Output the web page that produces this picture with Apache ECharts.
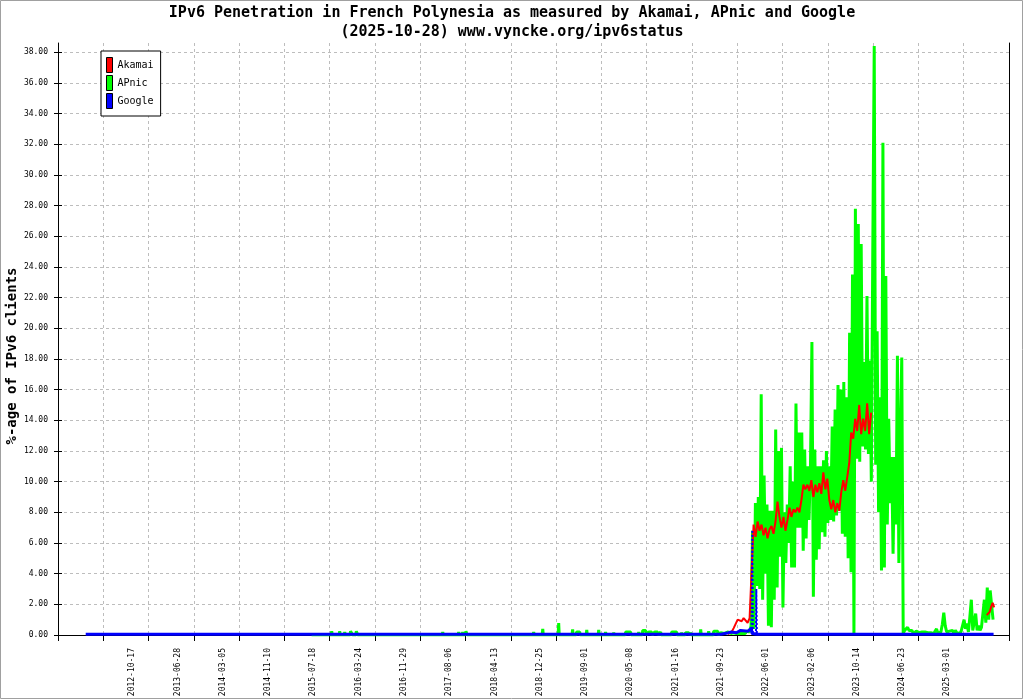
<!DOCTYPE html>
<html>
<head>
<meta charset="utf-8">
<script src="https://cdn.jsdelivr.net/npm/echarts@6/dist/echarts.min.js"></script>
<style>
html,body{margin:0;padding:0;background:#fff;}
#chart{width:1024px;height:700px;}
</style>
</head>
<body>
<div id="chart"></div>
<script>
// ---- Data (x = daily sample number, 250 samples between axis ticks) ----
const xTickLabels = ['2012-10-17','2013-06-28','2014-03-05','2014-11-10','2015-07-18','2016-03-24',
  '2016-11-29','2017-08-06','2018-04-13','2018-12-25','2019-09-01','2020-05-08','2021-01-16',
  '2021-09-23','2022-06-01','2023-02-06','2023-10-14','2024-06-23','2025-03-01'];
const firstLabelSample = 410;
const samplesPerTick = 250;
const yTickValues = [0,2,4,6,8,10,12,14,16,18,20,22,24,26,28,30,32,34,36,38];

// Akamai: evenly spaced samples from akamaiStart
const akamaiStart = 3697, akamaiStep = 11;
const akamaiValues = [
  0.05,0.1,0.2,0.45,0.5,1.0,1.1,0.9,1.1,1.0,
  0.8,1.1,1.0,7.2,6.4,7.4,6.8,7.2,6.5,7.0,
  6.3,6.9,7.1,6.6,7.4,8.7,7.7,7.0,7.7,6.8,
  7.5,8.3,7.7,8.2,8.0,8.3,8.0,8.8,9.8,9.5,
  9.8,9.4,10.1,9.0,9.8,9.3,9.9,9.2,10.6,9.5,
  10.2,8.8,8.2,8.8,8.0,8.6,8.1,9.3,10.1,9.4,
  10.3,11.2,13.2,12.8,14.1,13.3,15.0,13.1,14.1,13.3,
  15.1,13.1,14.5
];
const akamaiTail = [[5127,1.3],[5135,1.2],[5143,1.5],[5153,1.9],[5160,2.1],[5168,1.8]];

// APnic: sparse early readings, then evenly spaced samples from apnicStart
const apnicEarly = [
  [1400,0],
  [1508,0],[1511,0.25],[1514,0],
  [1552,0],[1555,0.25],[1558,0],
  [1580,0],[1583,0.2],[1586,0],
  [1612,0],[1615,0.25],[1623,0.25],[1626,0],
  [1644,0],[1647,0.25],[1652,0.25],[1655,0],
  [2121,0],[2124,0.2],[2127,0],
  [2209,0],[2212,0.2],[2215,0],
  [2231,0],[2234,0.2],[2237,0],
  [2249,0],[2252,0.25],[2256,0.25],[2259,0],
  [2623,0],[2626,0.2],[2629,0],
  [2673,0],[2676,0.4],[2679,0],
  [2761,0],[2764,0.78],[2767,0],
  [2838,0],[2841,0.37],[2844,0],
  [2860,0],[2863,0.2],[2880,0.2],[2883,0],
  [2916,0],[2919,0.33],[2922,0],
  [2982,0],[2985,0.33],[2988,0],
  [3020,0],[3023,0.2],[3026,0],
  [3065,0],[3068,0.15],[3071,0],
  [3131,0],[3134,0.2],[3161,0.2],[3164,0],
  [3203,0],[3206,0.2],[3209,0],
  [3225,0],[3228,0.3],[3244,0.3],[3247,0],
  [3258,0],[3261,0.2],[3277,0.2],[3280,0],
  [3291,0],[3294,0.2],[3310,0.2],[3313,0],
  [3324,0],[3327,0.2],[3330,0],
  [3385,0],[3388,0.2],[3415,0.2],[3418,0],
  [3440,0],[3443,0.15],[3446,0],
  [3462,0],[3465,0.15],[3482,0.15],[3485,0],
  [3489,0],[3492,0.15],[3495,0],
  [3545,0],[3548,0.37],[3551,0],
  [3589,0],[3592,0.25],[3595,0],
  [3617,0],[3620,0.25],[3642,0.25],[3645,0],
  [3655,0],[3658,0.15],[3680,0.1],[3700,0.2],[3715,0.1],[3728,0.15]
];
const apnicStart = 3738, apnicStep = 8;
const apnicValues = [
  0.2,0.1,0.2,0.1,0.15,0.1,0.2,0.1,0.25,0.3,
  0.2,0.6,6.8,0.4,8.6,3.2,9.0,3.0,15.7,2.3,
  10.4,4.0,8.5,0.6,8.1,0.5,8.1,2.3,13.4,3.1,
  12.0,5.1,12.2,1.8,8.0,4.7,8.5,6.0,11.0,4.4,
  10.0,4.4,15.1,7.0,13.2,7.0,13.2,5.5,12.1,6.3,
  11.0,7.5,11.0,19.1,2.5,12.1,4.9,11.0,5.6,11.0,
  6.7,11.4,6.4,12.0,7.3,11.0,7.5,13.6,7.4,14.7,
  7.8,16.3,8.1,16.0,6.6,16.5,6.4,15.5,5.0,19.7,
  4.1,23.5,0.0,27.8,11.5,26.8,11.3,25.5,12.3,17.8,
  12.1,22.1,11.8,17.9,10.0,25.0,38.4,11.1,19.8,8.0,
  15.5,4.2,32.1,4.4,23.4,7.2,14.1,8.6,11.6,5.3,
  11.6,7.2,18.2,4.7,13.1,18.1,0.1,0.3,0.4,0.5,
  0.3,0.4,0.3,0.1,0.2,0.25,0.2,0.15,0.25,0.2,
  0.1,0.2,0.1,0.15,0.1,0.15,0.05,0.1,0.1,0.4,
  0.1,0.15,0.2,0.7,1.45,0.6,0.2,0.1,0.25,0.15,
  0.3,0.1,0.3,0.15,0.2,0.1,0.25,0.2,1.0,0.4,
  0.75,0.2,1.2,2.3,0.3,0.4,1.4,0.3,0.6,0.3,
  0.5,0.6,2.3,0.8,3.1,1.0,2.9,2.8,1.0
];

// Google
const googleValues = [[153,0.05],[3660,0.05],[3664,0.15],[3700,0.15],[3718,0.2],[3745,0.15],
  [3768,0.3],[3776,0.2],[3810,0.25],[3828,0.45],[3831,0.1],[3858,0.05],[5165,0.05]];
const googleSpike = [[3829,0.4],[3833,6.85],[3836,0.1],[3853,0.1],[3855,3.0],[3858,0.05]];

// ---- Build series data ----
const akamaiData = akamaiValues.map((v, i) => [akamaiStart + i * akamaiStep, v]);
const apnicData = apnicEarly.concat(apnicValues.map((v, i) => [apnicStart + i * apnicStep, v]));
const labelPositions = xTickLabels.map((_, j) => firstLabelSample + samplesPerTick * j);

const mono = 'DejaVu Sans Mono';
const gridDash = {color: '#bdbdbd', width: 1, type: [3, 3]};
const yMax = 38.6;

const chart = echarts.init(document.getElementById('chart'), null, {renderer: 'canvas'});
function lineSeries(name, data, color, width, extra) {
  return Object.assign({
    name: name, type: 'line', data: data, symbol: 'none', showSymbol: false,
    silent: true, clip: true, connectNulls: false,
    lineStyle: {color: color, width: width, join: 'bevel'},
    itemStyle: {color: color},
    emphasis: {disabled: true}
  }, extra || {});
}
chart.setOption({
  animation: false,
  backgroundColor: '#ffffff',
  title: {
    text: 'IPv6 Penetration in French Polynesia as measured by Akamai, APnic and Google\n(2025-10-28) www.vyncke.org/ipv6status',
    left: 'center', top: 4, padding: 0,
    textStyle: {fontFamily: mono, fontSize: 15, fontWeight: 'bold', color: '#000', lineHeight: 19}
  },
  legend: {
    data: ['Akamai', 'APnic', 'Google'],
    orient: 'vertical', left: 101, top: 51, padding: [6, 7, 7, 5],
    itemWidth: 6, itemHeight: 15, itemGap: 2,
    backgroundColor: '#fff', borderColor: '#000', borderWidth: 1, borderRadius: 0,
    icon: 'rect', selectedMode: false,
    itemStyle: {borderColor: '#000', borderWidth: 1},
    textStyle: {fontFamily: mono, fontSize: 10, color: '#000'}
  },
  grid: {left: 58, right: 15, top: 43, bottom: 65, containLabel: false, outerBoundsMode: 'none'},
  xAxis: {
    type: 'value', min: 0, max: 5250, interval: samplesPerTick,
    axisLine: {lineStyle: {color: '#000', width: 1}},
    axisTick: {length: 6, lineStyle: {color: '#000', width: 1}},
    axisLabel: {
      customValues: labelPositions, rotate: 90, margin: 13,
      fontFamily: mono, fontSize: 8, color: '#000',
      formatter: v => xTickLabels[Math.round((v - firstLabelSample) / samplesPerTick)] || ''
    },
    splitLine: {show: true, lineStyle: gridDash}
  },
  yAxis: [
    {
      type: 'value', min: 0, max: yMax, position: 'left',
      axisLine: {show: true, lineStyle: {color: '#000', width: 1}},
      axisTick: {show: true, customValues: yTickValues, length: 4, lineStyle: {color: '#000'}},
      axisLabel: {customValues: yTickValues, margin: 10, fontFamily: mono, fontSize: 8, color: '#000',
        formatter: v => Number(v).toFixed(2)},
      splitLine: {show: true, lineStyle: gridDash}
    },
    {
      type: 'value', min: 0, max: yMax, position: 'left',
      axisLine: {show: false},
      axisTick: {show: true, inside: true, customValues: yTickValues, length: 4, lineStyle: {color: '#000'}},
      axisLabel: {show: false}, splitLine: {show: false}
    },
    {
      type: 'value', min: 0, max: yMax, position: 'right',
      axisLine: {show: true, lineStyle: {color: '#000', width: 1}},
      axisTick: {show: false}, axisLabel: {show: false}, splitLine: {show: false}
    }
  ],
  graphic: [
    {type: 'rect', silent: true, shape: {x: 0.5, y: 0.5, width: 1022, height: 698},
     style: {fill: 'none', stroke: '#a0a0a0', lineWidth: 1}},
    {type: 'text', silent: true, x: 12, y: 356, rotation: Math.PI / 2,
     style: {text: '%-age of IPv6 clients', fontFamily: mono, fontSize: 14, fontWeight: 'bold',
       fill: '#000', align: 'center', verticalAlign: 'middle'}}
  ],
  series: [
    lineSeries('APnic', apnicData, '#00ff00', 3),
    lineSeries('Akamai', akamaiData, '#ff0000', 2),
    lineSeries('Akamai', akamaiTail, '#ff0000', 2),
    lineSeries('Google', googleSpike, '#0000ff', 2, {lineStyle: {color: '#0000ff', width: 2, type: [2, 2]}}),
    lineSeries('Google', googleValues, '#0000ff', 3)
  ]
});
</script>
</body>
</html>
